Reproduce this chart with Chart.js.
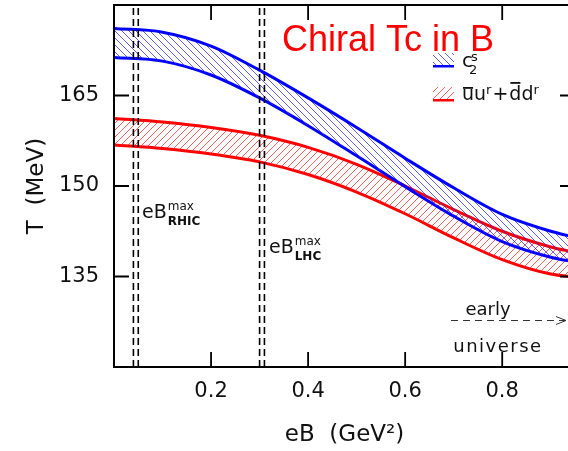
<!DOCTYPE html>
<html>
<head>
<meta charset="utf-8">
<script src="https://cdn.jsdelivr.net/npm/chart.js@4"></script>
<style>
  html, body { margin: 0; padding: 0; overflow: hidden; background: #fff; width: 568px; height: 451px; }
  canvas { display: block; }
</style>
</head>
<body>
<canvas id="chart" width="600" height="451"></canvas>
<script>
// eB in GeV^2, T in MeV
const eB      = [0, 0.1, 0.2, 0.3, 0.4, 0.5, 0.6, 0.7, 0.8, 0.9, 0.95];
const csUpper = [176.1, 175.5, 173.2, 169.2, 164.6, 159.7, 154.6, 149.7, 145.3, 142.5, 141.5];
const csLower = [171.3, 170.7, 168.4, 164.6, 160.0, 155.0, 149.9, 145.0, 140.8, 138.2, 137.4];
const qqUpper = [161.2, 160.6, 159.7, 158.4, 156.4, 153.6, 150.0, 146.1, 142.5, 139.9, 139.0];
const qqLower = [156.8, 156.2, 155.3, 154.0, 151.9, 149.0, 145.4, 141.4, 137.8, 135.4, 134.9];
const eBmax   = [0.04, 0.05, 0.30, 0.31]; // RHIC and LHC bands
const xTicks  = [0.2, 0.4, 0.6, 0.8];
const yTicks  = [135, 150, 165];

const FONT = '"DejaVu Sans", sans-serif';

function hatch(color, slash) {
    const s = 7;
    const c = document.createElement('canvas');
    c.width = s; c.height = s;
    const g = c.getContext('2d');
    g.strokeStyle = color;
    g.lineWidth = 1;
    g.beginPath();
    if (slash) {
        g.moveTo(-1, s + 1); g.lineTo(s + 1, -1);
        g.moveTo(-1, 1); g.lineTo(1, -1);
        g.moveTo(s - 1, s + 1); g.lineTo(s + 1, s - 1);
    } else {
        g.moveTo(-1, -1); g.lineTo(s + 1, s + 1);
        g.moveTo(s - 1, -1); g.lineTo(s + 1, 1);
        g.moveTo(-1, s - 1); g.lineTo(1, s + 1);
    }
    g.stroke();
    return g.createPattern(c, 'repeat');
}

const blueHatch = hatch('rgba(40,40,255,0.75)', false);
const redHatch = hatch('rgba(255,40,40,0.75)', true);

const pts = ys => eB.map((x, i) => ({ x, y: ys[i] }));

const band = (ys, color, fill, bg) => ({
    data: pts(ys),
    borderColor: color,
    borderWidth: 3,
    pointRadius: 0,
    cubicInterpolationMode: 'monotone',
    fill: fill,
    backgroundColor: bg || 'transparent'
});

const dashed = eBmax.map(v => ({
    data: [{ x: v, y: 120 }, { x: v, y: 180 }],
    borderColor: '#000',
    borderWidth: 1.6,
    borderDash: [7, 4],
    pointRadius: 0,
    fill: false,
    order: -1
}));

function eBLabel(ctx, x0, base) {
    ctx.font = '19px ' + FONT;
    ctx.fillText('eB', x0, base);
    const w = ctx.measureText('eB').width;
    return x0 + w + 1;
}

const decor = {
    id: 'decor',
    afterDatasetsDraw(chart) {
        const { ctx, chartArea: a, scales: { x, y } } = chart;
        ctx.save();

        // frame + inward ticks
        ctx.strokeStyle = '#000';
        ctx.lineWidth = 2;
        ctx.strokeRect(a.left, a.top, a.right - a.left, a.bottom - a.top);
        ctx.lineWidth = 1.8;
        ctx.beginPath();
        xTicks.forEach(v => {
            const px = x.getPixelForValue(v);
            ctx.moveTo(px, a.bottom); ctx.lineTo(px, a.bottom - 15);
            ctx.moveTo(px, a.top); ctx.lineTo(px, a.top + 15);
        });
        yTicks.forEach(v => {
            const py = y.getPixelForValue(v);
            ctx.moveTo(a.left, py); ctx.lineTo(a.left + 15, py);
            ctx.moveTo(a.right, py); ctx.lineTo(a.right - 15, py);
        });
        ctx.stroke();

        // title
        ctx.fillStyle = '#ff0000';
        ctx.textBaseline = 'alphabetic';
        ctx.textAlign = 'left';
        ctx.font = '36px "Liberation Sans", sans-serif';
        ctx.fillText('Chiral Tc in B', 282, 51);

        // legend swatches
        const sw = (top, pat, col) => {
            ctx.fillStyle = pat;
            ctx.fillRect(433, top, 21, 13);
            ctx.fillStyle = col;
            ctx.fillRect(433, top + 12, 21, 2.5);
        };
        sw(53, blueHatch, '#0000ff');
        sw(87, redHatch, '#ff0000');

        ctx.fillStyle = '#111';
        ctx.font = '20px ' + FONT;
        ctx.fillText('c', 462, 67);
        ctx.font = '13px ' + FONT;
        ctx.fillText('s', 471, 61);
        ctx.fillText('2', 469, 74);

        // \bar{u}u^r + \bar{d}d^r
        let cx = 462;
        const big = '19px ' + FONT, small = '13px ' + FONT;
        const put = (t, f, base, bar) => {
            ctx.font = f;
            const w = ctx.measureText(t).width;
            ctx.fillText(t, cx, base);
            if (bar) ctx.fillRect(cx + 1, bar, w - 2, 1.8);
            cx += w;
        };
        put('u', big, 100, 87);
        put('u', big, 100);
        put('r', small, 94);
        cx += 1;
        put('+', big, 100);
        cx += 1;
        put('d', big, 100, 82);
        put('d', big, 100);
        put('r', small, 94);

        // eB max labels
        const lab = (x0, base, sub) => {
            const xs = eBLabel(ctx, x0, base);
            ctx.font = '12px ' + FONT;
            ctx.fillText('max', xs, base - 8);
            ctx.font = '600 12px ' + FONT;
            ctx.fillText(sub, xs, base + 7);
        };
        lab(142, 218, 'RHIC');
        lab(269, 253, 'LHC');

        // early universe arrow
        ctx.font = '18px ' + FONT;
        ctx.textAlign = 'center';
        ctx.fillText('early', 488, 315);
        ctx.letterSpacing = '1.5px';
        ctx.fillText('universe', 498, 352);
        ctx.letterSpacing = '0px';
        ctx.strokeStyle = '#333';
        ctx.lineWidth = 1;
        ctx.setLineDash([7, 5]);
        ctx.beginPath();
        ctx.moveTo(451, 320.5); ctx.lineTo(565, 320.5);
        ctx.stroke();
        ctx.setLineDash([]);
        ctx.beginPath();
        ctx.moveTo(556, 316.5); ctx.lineTo(566, 320.5); ctx.lineTo(556, 324.5);
        ctx.stroke();

        ctx.restore();
    }
};

new Chart(document.getElementById('chart'), {
    type: 'line',
    data: {
        datasets: [
            band(csUpper, '#0000ff', '+1', blueHatch),
            band(csLower, '#0000ff', false),
            band(qqUpper, '#ff0000', '+1', redHatch),
            band(qqLower, '#ff0000', false),
            ...dashed
        ]
    },
    options: {
        responsive: false,
        animation: false,
        devicePixelRatio: 1,
        layout: { padding: { top: 5, right: 25, left: 0, bottom: 0 } },
        plugins: { legend: { display: false }, tooltip: { enabled: false } },
        scales: {
            x: {
                type: 'linear',
                min: 0,
                max: 0.95,
                afterBuildTicks: s => { s.ticks = xTicks.map(v => ({ value: v })); },
                afterFit: s => { s.height = 84; s.paddingLeft = 0; s.paddingRight = 0; },
                grid: { display: false, drawTicks: false },
                border: { display: false },
                ticks: { padding: 12, color: '#111', font: { family: FONT, size: 21 }, callback: v => v.toFixed(1) },
                title: { display: true, text: 'eB  (GeV²)', color: '#111', font: { family: FONT, size: 23 }, padding: { top: 0, bottom: 2 } }
            },
            y: {
                min: 120,
                max: 180,
                afterBuildTicks: s => { s.ticks = yTicks.map(v => ({ value: v })); },
                afterFit: s => { s.width = 114; s.paddingTop = 0; s.paddingBottom = 0; },
                grid: { display: false, drawTicks: false },
                border: { display: false },
                ticks: { padding: 15, color: '#111', font: { family: FONT, size: 21 } },
                title: { display: true, text: 'T  (MeV)', color: '#111', font: { family: FONT, size: 23 }, padding: { top: 23, bottom: 0 } }
            }
        }
    },
    plugins: [decor]
});
</script>
</body>
</html>
